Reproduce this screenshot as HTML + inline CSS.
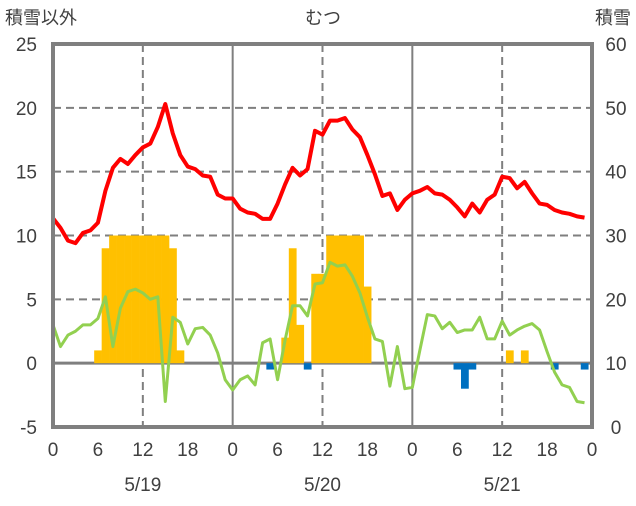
<!DOCTYPE html>
<html><head><meta charset="utf-8"><style>
body{margin:0;background:#fff}
svg text{font-family:"Liberation Sans","Noto Sans CJK JP",sans-serif;fill:#404040}
</style></head><body>
<svg id="c" width="636" height="501" viewBox="0 0 636 501" xmlns="http://www.w3.org/2000/svg">
<text x="5" y="24" font-size="18">積雪以外</text>
<text x="323" y="24" font-size="18" text-anchor="middle">むつ</text>
<text x="631" y="24" font-size="18" text-anchor="end">積雪</text>
<g id="grid"></g><g id="bars"></g><g id="lines"></g><g id="axes"></g>
</svg>
<script>
const hours=[0,6,12,18,0,6,12,18,0,6,12,18,0];
const dates=["5/19","5/20","5/21"];
const leftTicks=[-5,0,5,10,15,20,25];
const rightTicks=[0,10,20,30,40,50,60];
const red=[11.35,10.6,9.6,9.4,10.2,10.4,11.0,13.5,15.3,16.0,15.6,16.3,16.9,17.2,18.5,20.3,18.0,16.3,15.4,15.2,14.7,14.6,13.2,12.9,12.9,12.1,11.8,11.7,11.3,11.3,12.5,14.0,15.3,14.7,15.2,18.2,17.9,19.0,19.0,19.2,18.3,17.7,16.3,14.8,13.1,13.3,12.0,12.8,13.3,13.5,13.8,13.3,13.2,12.8,12.2,11.5,12.5,11.8,12.8,13.2,14.6,14.5,13.7,14.2,13.3,12.5,12.4,12.0,11.8,11.7,11.5,11.4];
const green=[3.0,1.3,2.2,2.5,3.0,3.0,3.5,5.2,1.3,4.3,5.6,5.8,5.5,5.0,5.2,-3.0,3.6,3.2,1.5,2.7,2.8,2.2,0.8,-1.3,-2.1,-1.3,-1.0,-1.7,1.6,1.9,-1.3,1.8,4.5,4.5,3.7,6.2,6.3,7.9,7.6,7.7,6.8,5.5,3.6,1.9,1.7,-1.8,1.3,-2.0,-1.9,1.0,3.8,3.7,2.7,3.2,2.4,2.6,2.6,3.6,1.9,1.9,3.3,2.2,2.6,2.9,3.1,2.6,0.9,-0.7,-1.7,-1.9,-3.0,-3.1];
const snow=[0,0,0,0,0,0,1,9,10,10,10,10,10,10,10,10,9,1,0,0,0,0,0,0,0,0,0,0,0,-0.5,0,2,9,3,-0.5,7,7,10,10,10,10,10,6,0,0,0,0,0,0,0,0,0,0,0,-0.5,-2,-0.5,0,0,0,0,1,0,1,0,0,0,-0.5,0,0,0,-0.5];
const X0=53,X1=592,YT=44,YB=427;
const x=h=>X0+(X1-X0)*h/72;
const yL=v=>YB-(v+5)/30*(YB-YT);
const yR=v=>YB-v/60*(YB-YT);
const NS="http://www.w3.org/2000/svg";
function mk(tag,attrs,parent,text){const e=document.createElementNS(NS,tag);for(const k in attrs)e.setAttribute(k,attrs[k]);if(text!==undefined)e.textContent=text;document.getElementById(parent).appendChild(e);return e;}
// grid
[5,10,15,20].forEach(v=>{const e=mk('line',{x1:X0,x2:X1,y1:yL(v),y2:yL(v),stroke:'#7f7f7f','stroke-width':2,'stroke-dasharray':'8,5'},'grid');

});
[12,36,60].forEach(h=>{const e=mk('line',{x1:x(h),x2:x(h),y1:YT,y2:YB,stroke:'#7f7f7f','stroke-width':2,'stroke-dasharray':'8,5'},'grid');

});
[24,48].forEach(h=>{const e=mk('line',{x1:x(h),x2:x(h),y1:YT,y2:YB,stroke:'#7f7f7f','stroke-width':2},'grid');

});
// bars
snow.forEach((v,i)=>{if(!v)return;const y0=yL(0),y1=yL(v);
const e=mk('rect',{x:x(i-0.5),y:Math.min(y0,y1),width:x(1)-x(0)+0.3,height:Math.abs(y1-y0),fill:v>0?'#ffc000':'#0070c0'},'bars');

});
// zero line
const z=mk('line',{x1:X0,x2:X1,y1:yL(0),y2:yL(0),stroke:'#7f7f7f','stroke-width':3},'grid');


// lines
function line(arr,col,w,name){const p=mk('polyline',{points:arr.map((v,i)=>x(i)+','+yL(v)).join(' '),fill:'none',stroke:col,'stroke-width':w,'stroke-linejoin':'round'},'lines');

}
line(green,'#92d050',3,'green-series-line');
line(red,'#ff0000',4,'red-series-line');
// frame
const f=mk('rect',{x:X0,y:YT,width:X1-X0,height:YB-YT,fill:'none',stroke:'#7f7f7f','stroke-width':4},'axes');


leftTicks.forEach(v=>{const t=mk('text',{x:37,y:yL(v)+7,'font-size':19,'text-anchor':'end'},'axes',String(v));

});
rightTicks.forEach(v=>{const t=mk('text',{x:616,y:yR(v)+7,'font-size':19,'text-anchor':'middle'},'axes',String(v));

});
hours.forEach((v,i)=>{const t=mk('text',{x:x(i*6),y:456,'font-size':19,'text-anchor':'middle'},'axes',String(v));

});
dates.forEach((d,i)=>{const t=mk('text',{x:x(i*24+12),y:491,'font-size':19,'text-anchor':'middle'},'axes',d);

});
</script>
</body></html>
